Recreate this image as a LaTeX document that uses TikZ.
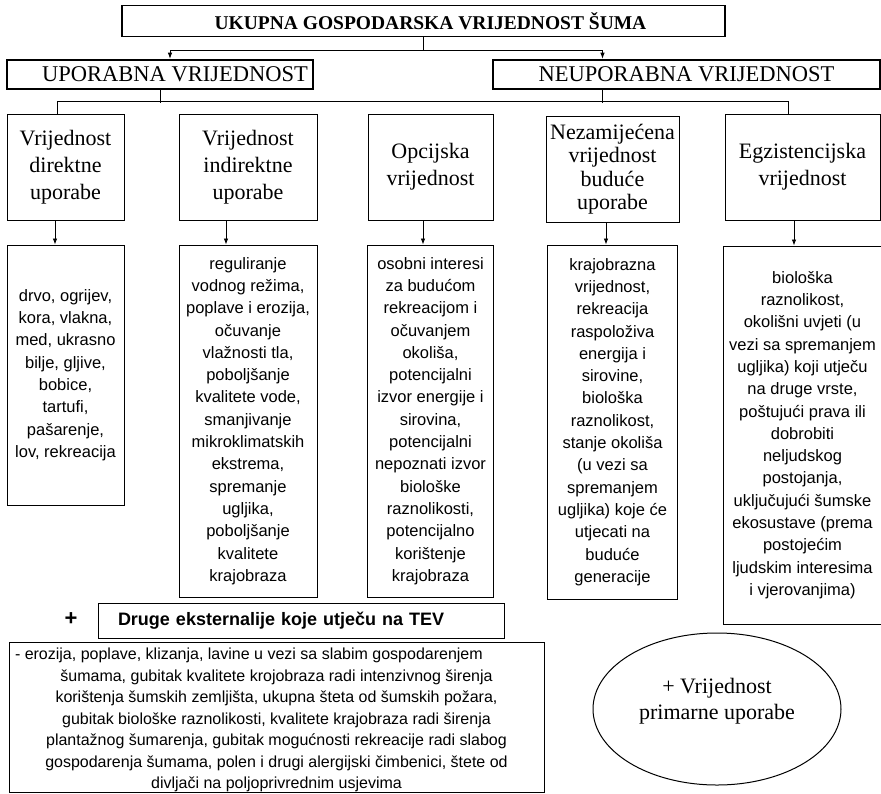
\documentclass[tikz,border=0pt]{standalone}
\usepackage{fontspec}
\setmainfont{Liberation Serif}
\setsansfont{Liberation Sans}
\usetikzlibrary{arrows.meta, positioning, shapes.geometric}
\tikzstyle{headbox}  = [rectangle, draw=black, line width=1.2pt, inner sep=0pt,
                        font=\bfseries\fontsize{19.5}{21}\selectfont]
\tikzstyle{groupbox} = [rectangle, draw=black, line width=2.6pt, inner sep=0pt,
                        minimum height=29pt, font=\fontsize{22.5}{24}\selectfont]
\tikzstyle{valbox}   = [rectangle, draw=black, line width=1pt, inner sep=0pt,
                        minimum height=106pt, align=center,
                        font=\fontsize{22}{27}\selectfont]
\tikzstyle{listbox}  = [rectangle, draw=black, line width=1pt, inner sep=0pt,
                        align=center, font=\sffamily\fontsize{16.5}{22.3}\selectfont]
\tikzstyle{arr}      = [-{Latex[length=6pt,width=4.5pt]}, line width=0.8pt]
\tikzstyle{link}     = [line width=0.8pt]

\begin{document}
\begin{tikzpicture}[x=1pt, y=-1pt, node distance=24pt]
  \useasboundingbox (0,0) rectangle (881,793);

  \node[headbox, minimum width=603pt, minimum height=31pt] (tev) at (423.5,21)
      {\hspace*{14pt}UKUPNA GOSPODARSKA VRIJEDNOST ŠUMA};

  \node[groupbox, minimum width=306pt] (upo) at (160,74.5)
      {\hspace*{30pt}UPORABNA VRIJEDNOST};
  \node[groupbox, minimum width=387pt] (neu) at (686.5,74.5)
      {NEUPORABNA VRIJEDNOST};

  \draw[arr] (tev.south) -- ++(0,13) -| ([xshift=10pt]upo.north);
  \draw[arr] (tev.south) -- ++(0,13) -| ([xshift=-84pt]neu.north);

  \node[valbox, minimum width=117pt] (dir) at (65.5,167)
      {Vrijednost\\direktne\\uporabe};
  \node[valbox, minimum width=138pt] (ind) at (248,167)
      {Vrijednost\\indirektne\\uporabe};
  \node[valbox, minimum width=125pt] (opc) at (430.5,167)
      {Opcijska\\vrijednost};
  \node[valbox, minimum width=133pt, font=\fontsize{22}{23.5}\selectfont]
      (buc) at (612.5,169) {Nezamijećena\\vrijednost\\buduće\\uporabe};
  \node[valbox, minimum width=155pt] (egz) at (802.5,167)
      {Egzistencijska\\vrijednost};

  \draw[link] (upo.south) -- ++(0,13);
  \draw[link] ([xshift=-84pt]neu.south) -- ++(0,13);
  \draw[link] ([xshift=-8pt]dir.north) -- ++(0,-12) -| ([xshift=-14pt]egz.north);

  \node[listbox, below=24pt of dir, minimum width=117pt, minimum height=260pt]
      (dirl) {drvo, ogrijev,\\kora, vlakna,\\med, ukrasno\\bilje, gljive,\\
      bobice,\\tartufi,\\pašarenje,\\lov, rekreacija};
  \node[listbox, below=24pt of ind, minimum width=138pt, minimum height=352pt]
      (indl) {reguliranje\\vodnog režima,\\poplave i erozija,\\očuvanje\\
      vlažnosti tla,\\poboljšanje\\kvalitete vode,\\smanjivanje\\
      mikroklimatskih\\ekstrema,\\spremanje\\ugljika,\\poboljšanje\\
      kvalitete\\krajobraza};
  \node[listbox, below=24pt of opc, minimum width=126pt, minimum height=352pt]
      (opcl) {osobni interesi\\za budućom\\rekreacijom i\\očuvanjem\\okoliša,\\
      potencijalni\\izvor energije i\\sirovina,\\potencijalni\\nepoznati izvor\\
      biološke\\raznolikosti,\\potencijalno\\korištenje\\krajobraza};
  \node[listbox, below=22pt of buc, minimum width=130pt, minimum height=354pt]
      (bucl) {krajobrazna\\vrijednost,\\rekreacija\\raspoloživa\\energija i\\
      sirovine,\\biološka\\raznolikost,\\stanje okoliša\\(u vezi sa\\spremanjem\\
      ugljika) koje će\\utjecati na\\buduće\\generacije};
  \node[listbox, below=25pt of egz, minimum width=158pt, minimum height=378pt]
      (egzl) {biološka\\raznolikost,\\okolišni uvjeti (u\\vezi sa spremanjem\\
      ugljika) koji utječu\\na druge vrste,\\poštujući prava ili\\dobrobiti\\
      neljudskog\\postojanja,\\uključujući šumske\\ekosustave (prema\\
      postojećim\\ljudskim interesima\\i vjerovanjima)};

  \draw[arr] ([xshift=-10.5pt]dir.south) -- ([xshift=-10.5pt]dirl.north);
  \draw[arr] ([xshift=-22pt]ind.south) -- ([xshift=-22pt]indl.north);
  \draw[arr] ([xshift=-7.5pt]opc.south) -- ([xshift=-7.5pt]opcl.north);
  \draw[arr] ([xshift=-6.5pt]buc.south) -- ([xshift=-6.5pt]bucl.north);
  \draw[arr] ([xshift=-8.5pt]egz.south) -- ([xshift=-8.5pt]egzl.north);

  \node[font=\sffamily\bfseries\fontsize{22}{24}\selectfont] (plus) at (71,619) {+};
  \node[rectangle, draw=black, line width=1pt, inner xsep=20pt, inner ysep=0pt,
        text width=366pt, minimum height=35pt, align=left,
        font=\sffamily\bfseries\fontsize{18}{20}\selectfont]
      (ext) at (301,620.5) {Druge eksternalije koje utječu na TEV};

  \node[listbox, minimum width=535pt, minimum height=149pt,
        font=\sffamily\fontsize{16}{21.5}\selectfont] (extl) at (276.5,717.5)
      {\makebox[523pt][l]{\rule{0pt}{17pt}- erozija, poplave, klizanja, lavine
      u vezi sa slabim gospodarenjem}\\
      šumama, gubitak kvalitete krojobraza radi intenzivnog širenja\\
      korištenja šumskih zemljišta, ukupna šteta od šumskih požara,\\
      gubitak biološke raznolikosti, kvalitete krajobraza radi širenja\\
      plantažnog šumarenja, gubitak mogućnosti rekreacije radi slabog\\
      gospodarenja šumama, polen i drugi alergijski čimbenici, štete od\\
      divljači na poljoprivrednim usjevima};

  \node[ellipse, draw=black, line width=1pt, inner sep=0pt, minimum width=248pt,
        minimum height=152pt] (prim) at (717,709) {};
  \node[align=center, font=\fontsize{22}{26}\selectfont] (primtext)
      at ([yshift=8pt]prim.center) {+ Vrijednost\\primarne uporabe};

\end{tikzpicture}
\end{document}
